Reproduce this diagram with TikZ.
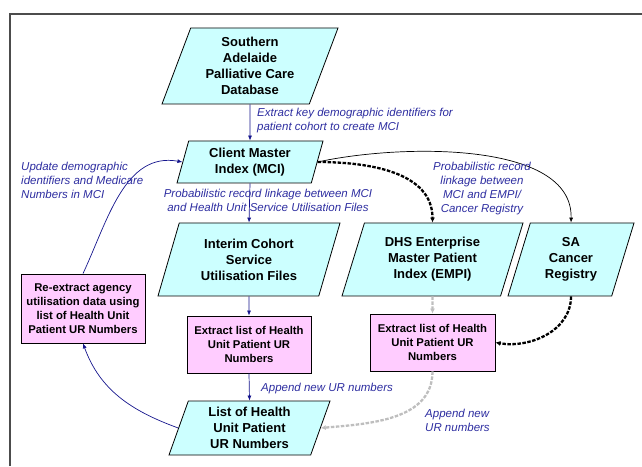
\documentclass[tikz,border=0pt]{standalone}
\usepackage{fontspec}
\setmainfont{Liberation Sans}
\usetikzlibrary{shapes.geometric,arrows.meta}
\definecolor{datacyan}{RGB}{204,255,255}
\definecolor{steppink}{RGB}{255,204,255}
\definecolor{linknavy}{RGB}{20,20,140}
\definecolor{notenavy}{RGB}{45,45,160}
\definecolor{mergegray}{RGB}{190,190,190}
\begin{document}
\begin{tikzpicture}[
            x=1pt, y=1pt,
            data/.style={
                trapezium,
                trapezium left angle=65,
                trapezium right angle=115,
                trapezium stretches body,
                draw=black,
                fill=datacyan,
                line width=0.8pt,
                inner sep=2pt,
                align=center,
                font=\bfseries\fontsize{13}{16}\selectfont
            },
            task/.style={
                rectangle,
                draw=black,
                fill=steppink,
                line width=0.8pt,
                align=center,
                font=\bfseries\fontsize{11.3}{14}\selectfont
            },
            note/.style={
                text=notenavy,
                inner sep=0pt,
                font=\itshape\fontsize{11.5}{14}\selectfont
            },
            arrow/.style={-{Latex[length=5pt,width=4pt]}, linknavy, line width=0.7pt},
            link/.style={-{Latex[length=5pt,width=4pt]}, black, line width=0.7pt},
            heavy/.style={-{Latex[length=5pt,width=5pt]}, black, line width=2.3pt, dash pattern=on 3.5pt off 1.5pt},
            merge/.style={-{Latex[length=5pt,width=5pt]}, mergegray, line width=2.3pt, dash pattern=on 3.5pt off 1.5pt}
        ]
        \useasboundingbox (0,0) rectangle (642,466);

        % Frame
        \draw[line width=1.2pt, black!70] (10,0) |- (642,452);

        % Data sources
        \node[data, minimum width=176pt, minimum height=76pt] (sapcd) at (250,400) {Southern\\Adelaide\\Palliative Care\\Database};
        \node[data, trapezium left angle=70, trapezium right angle=110, minimum width=146pt, minimum height=42pt] (mci) at (250,304) {Client Master\\Index (MCI)};
        \node[data, minimum width=182pt, minimum height=73pt] (interim) at (249,206.5) {Interim Cohort\\Service\\Utilisation Files};
        \node[data, minimum width=181pt, minimum height=73pt] (empi) at (432.5,206.5) {DHS Enterprise\\Master Patient\\Index (EMPI)};
        \node[data, minimum width=126pt, minimum height=73pt] (sacr) at (571,206.5) {SA\\Cancer\\Registry};
        \node[data, trapezium left angle=67, trapezium right angle=113, minimum width=161pt, minimum height=54pt] (urlist) at (249.5,38) {List of Health\\Unit Patient\\UR Numbers};

        % Processing steps
        \node[task, minimum width=124pt, minimum height=69pt] (reextract) at (83,157.5) {Re-extract agency\\utilisation data using\\list of Health Unit\\Patient UR Numbers};
        \node[task, minimum width=124pt, minimum height=57pt] (extract1) at (249,121.5) {Extract list of Health\\Unit Patient UR\\Numbers};
        \node[task, minimum width=125pt, minimum height=57pt] (extract2) at (432.5,123.5) {Extract list of Health\\Unit Patient UR\\Numbers};

        % Main flow
        \draw[arrow] (sapcd.south) -- (mci.north);
        \draw[arrow] (mci.south) -- (interim.north);
        \draw[arrow] (interim.south) -- (extract1.north);
        \draw[arrow] (extract1.south) -- (urlist.north);
        \draw[arrow] (urlist.west) to[out=160, in=-70] (reextract.south);
        \draw[arrow] (reextract.north) to[out=65, in=170] (mci.west);

        % Linkage with EMPI and cancer registry
        \draw[link] (mci.east) .. controls +(82,18) and +(2,82) .. (sacr.north);
        \draw[heavy] (mci.east) to[out=0, in=90] (empi.north);
        \draw[heavy] (sacr.south) to[out=-90, in=-10] (extract2.east);
        \draw[merge] (empi.south) -- (extract2.north);
        \draw[merge] (extract2.south) to[out=-90, in=5] (urlist.east);

        % Labels
        \node[note, anchor=west, align=left] (n1) at (257,345) {Extract key demographic identifiers for\\patient cohort to create MCI};
        \node[note, align=center] (n2) at (268,265.5) {Probabilistic record linkage between MCI\\and Health Unit Service Utilisation Files};
        \node[note, anchor=west, align=left] (n3) at (21,286) {Update demographic\\identifiers and Medicare\\Numbers in MCI};
        \node[note, align=center] (n4) at (482,277) {Probabilistic record\\linkage between\\MCI and EMPI/\\Cancer Registry};
        \node[note, anchor=west] (n5) at (261,77) {Append new UR numbers};
        \node[note, anchor=west, align=left] (n6) at (425,46) {Append new\\UR numbers};

        \end{tikzpicture}
\end{document}
